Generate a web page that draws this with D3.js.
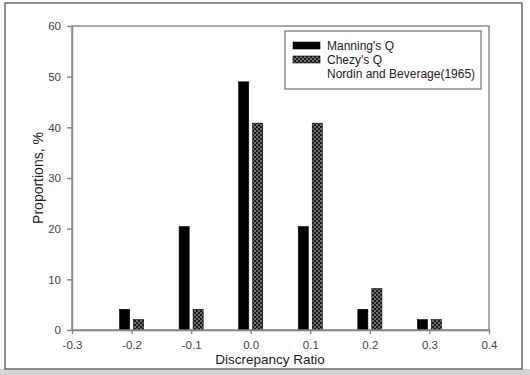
<!DOCTYPE html>
<html>
<head>
<meta charset="utf-8">
<script src="https://cdn.jsdelivr.net/npm/d3@7"></script>
<style>
  html, body { margin: 0; padding: 0; background: #fff; }
  svg { display: block; font-family: "Liberation Sans", Arial, sans-serif; }
</style>
</head>
<body>
<svg id="chart" width="530" height="375"></svg>
<script>
// Discrepancy ratio classes and the share of runs (%) falling in each
const categories = [-0.2, -0.1, 0.0, 0.1, 0.2, 0.3];
const manningQ   = [4.08, 20.41, 48.98, 20.41, 4.08, 2.04];
const chezyQ     = [2.04, 4.08, 40.82, 40.82, 8.16, 2.04];
const seriesNames = ["Manning's Q", "Chezy's Q"];
const legendNote  = "Nordin and Beverage(1965)";
const xTicks = [-0.3, -0.2, -0.1, 0.0, 0.1, 0.2, 0.3, 0.4];
const yTicks = [0, 10, 20, 30, 40, 50, 60];

const svg = d3.select("#chart");
const W = 530, H = 375;
const m = { left: 72, right: 489, top: 26, bottom: 330 };

// outer frame
svg.append("rect").attr("x", 0).attr("y", 369).attr("width", W).attr("height", 6).attr("fill", "#d4d4d4");
svg.append("rect").attr("x", 5).attr("y", 3).attr("width", 517).attr("height", 366)
  .attr("fill", "none").attr("stroke", "#555").attr("stroke-width", 1.3);

// checker fill for the Chezy bars
const defs = svg.append("defs");
const pat = defs.append("pattern").attr("id", "checker")
  .attr("patternUnits", "userSpaceOnUse").attr("width", 4).attr("height", 4);
pat.append("rect").attr("width", 4).attr("height", 4).attr("fill", "#1c1c1c");
pat.append("rect").attr("x", 0).attr("y", 0).attr("width", 2).attr("height", 2).attr("fill", "#6e6e6e");
pat.append("rect").attr("x", 2).attr("y", 2).attr("width", 2).attr("height", 2).attr("fill", "#6e6e6e");

const x = d3.scaleLinear().domain([-0.3, 0.4]).range([m.left, m.right]);
const y = d3.scaleLinear().domain([0, 60]).range([m.bottom, m.top]);

// bar pair within each class
const halfGroup = 0.0202;
const fills = ["#000", "url(#checker)"];
const data = [manningQ, chezyQ];

const g = svg.append("g");
categories.forEach((c, i) => {
  const band = d3.scaleBand().domain(seriesNames)
    .range([x(c - halfGroup), x(c + halfGroup)]).paddingInner(0.28);
  seriesNames.forEach((s, k) => {
    const v = data[k][i];
    g.append("rect")
      .attr("x", band(s))
      .attr("y", y(v))
      .attr("width", band.bandwidth())
      .attr("height", y(0) - y(v))
      .attr("fill", fills[k])
      .attr("stroke", "#000")
      .attr("stroke-width", 0.6);
  });
});

// plot box
const axisColor = "#858585";
svg.append("rect").attr("x", m.left).attr("y", m.top)
  .attr("width", m.right - m.left).attr("height", m.bottom - m.top)
  .attr("fill", "none").attr("stroke", axisColor).attr("stroke-width", 1.4);

// axes
const xAxis = svg.append("g").attr("transform", `translate(0,${m.bottom})`)
  .call(d3.axisBottom(x).tickValues(xTicks).tickFormat(d3.format(".1f")).tickSize(4).tickPadding(7).tickSizeOuter(0));
const yAxis = svg.append("g").attr("transform", `translate(${m.left},0)`)
  .call(d3.axisLeft(y).tickValues(yTicks).tickSize(5).tickPadding(6).tickSizeOuter(0));
[xAxis, yAxis].forEach(a => {
  a.select(".domain").attr("stroke", axisColor).attr("stroke-width", 1.4);
  a.selectAll(".tick line").attr("stroke", axisColor).attr("stroke-width", 1.4);
  a.selectAll(".tick text").attr("fill", "#444").style("font-size", "11.5px")
    .style("font-family", "Liberation Sans, Arial, sans-serif");
});
xAxis.selectAll(".tick text").text(d => d3.format(".1f")(d).replace("−", "-"));

// axis titles
svg.append("text").attr("x", 270).attr("y", 364).attr("text-anchor", "middle")
  .attr("fill", "#222").style("font-size", "13.5px").text("Discrepancy Ratio");
svg.append("text").attr("transform", `translate(43,${(m.top + m.bottom) / 2}) rotate(-90)`)
  .attr("text-anchor", "middle").attr("fill", "#222").style("font-size", "14px").text("Proportions, %");

// legend
const lg = svg.append("g");
lg.append("rect").attr("x", 285).attr("y", 31).attr("width", 196).attr("height", 58)
  .attr("fill", "#fff").attr("stroke", axisColor).attr("stroke-width", 1.4);
const rowBase = [50, 64, 78];
seriesNames.forEach((s, k) => {
  lg.append("rect").attr("x", 293).attr("y", rowBase[k] - 8).attr("width", 27).attr("height", 7)
    .attr("fill", fills[k]).attr("stroke", "#000").attr("stroke-width", 0.6);
  lg.append("text").attr("x", 327).attr("y", rowBase[k]).attr("fill", "#222")
    .style("font-size", "12px").text(s);
});
lg.append("text").attr("x", 327).attr("y", rowBase[2]).attr("fill", "#222")
  .style("font-size", "12px").text(legendNote);
</script>
</body>
</html>
